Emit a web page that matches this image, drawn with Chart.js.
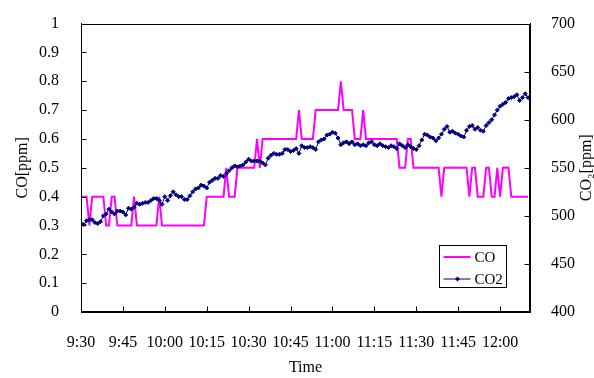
<!DOCTYPE html>
<html><head><meta charset="utf-8">
<script src="https://cdn.jsdelivr.net/npm/chart.js@4/dist/chart.umd.min.js"></script>
<style>html,body{margin:0;padding:0;background:#fff;}</style>
</head><body>
<canvas id="c" width="594" height="378"></canvas>
<script>
// minutes after 9:30 (one reading per minute)
const xTickLabels = ['9:30','9:45','10:00','10:15','10:30','10:45','11:00','11:15','11:30','11:45','12:00'];
const yLeftLabels = ['0','0.1','0.2','0.3','0.4','0.5','0.6','0.7','0.8','0.9','1'];
const yRightLabels = ['400','450','500','550','600','650','700'];
const seriesNames = ['CO','CO2'];
const leftTitle = 'CO[ppm]';
const rightTitle = 'CO\u2082[ppm]';
const bottomTitle = 'Time';

const coValues = [
 0.4,0.4,0.4,0.3,0.4,0.4,0.4,0.4,0.4,0.3,
 0.3,0.4,0.4,0.3,0.3,0.3,0.3,0.3,0.3,0.4,
 0.3,0.3,0.3,0.3,0.3,0.3,0.3,0.3,0.4,0.3,
 0.3,0.3,0.3,0.3,0.3,0.3,0.3,0.3,0.3,0.3,
 0.3,0.3,0.3,0.3,0.3,0.4,0.4,0.4,0.4,0.4,
 0.4,0.4,0.5,0.4,0.4,0.4,0.5,0.5,0.5,0.5,
 0.5,0.5,0.5,0.6,0.5,0.6,0.6,0.6,0.6,0.6,
 0.6,0.6,0.6,0.6,0.6,0.6,0.6,0.6,0.7,0.6,
 0.6,0.6,0.6,0.6,0.7,0.7,0.7,0.7,0.7,0.7,
 0.7,0.7,0.7,0.8,0.7,0.7,0.7,0.7,0.6,0.6,
 0.6,0.7,0.6,0.6,0.6,0.6,0.6,0.6,0.6,0.6,
 0.6,0.6,0.6,0.6,0.5,0.5,0.5,0.6,0.6,0.5,
 0.5,0.5,0.5,0.5,0.5,0.5,0.5,0.5,0.5,0.4,
 0.5,0.5,0.5,0.5,0.5,0.5,0.5,0.5,0.5,0.4,
 0.5,0.5,0.4,0.4,0.4,0.5,0.5,0.4,0.4,0.5,
 0.4,0.5,0.5,0.5,0.4,0.4,0.4,0.4,0.4,0.4,
 0.4
];
const co2Values = [
 492,491,495,496,496,493,492,494,500,502,
 507,504,502,505,505,504,501,508,507,509,
 513,512,513,514,514,516,518,518,516,512,
 520,516,521,525,522,520,520,517,517,521,
 525,528,529,532,531,529,535,537,539,539,
 542,541,544,547,550,552,551,552,553,556,
 559,557,557,557,557,555,553,560,563,565,
 564,564,565,569,569,567,568,570,565,573,
 571,571,572,571,569,577,579,580,584,585,
 587,586,581,574,576,577,575,577,574,575,
 573,574,573,576,577,574,573,575,573,572,
 571,573,572,570,575,573,571,574,572,570,
 569,573,579,585,584,582,581,578,581,585,
 590,593,587,588,586,585,583,582,589,593,
 594,590,592,589,588,594,597,600,605,610,
 614,616,618,622,623,624,626,620,623,627,
 623
];

const FONT = '"Liberation Serif", "Times New Roman", serif';
const toPts = arr => arr.map((v, i) => ({x: i, y: v}));

const decor = {
  id: 'decor',
  afterDraw(chart) {
    const {ctx, chartArea: a, scales} = chart;
    ctx.save();
    ctx.strokeStyle = '#000';
    ctx.lineWidth = 1;
    const L = Math.round(a.left) + 0.5, R = Math.round(a.right) - 0.5;
    const T = Math.round(a.top) + 0.5, B = Math.round(a.bottom) - 0.5;
    ctx.beginPath();
    ctx.rect(L, T, R - L, B - T);
    const tl = 5;
    scales.x.ticks.forEach(t => {
      const p = Math.round(scales.x.getPixelForValue(t.value)) + 0.5;
      ctx.moveTo(p, B); ctx.lineTo(p, B - tl);
    });
    scales.y.ticks.forEach(t => {
      const p = Math.round(scales.y.getPixelForValue(t.value)) + 0.5;
      ctx.moveTo(L, p); ctx.lineTo(L + tl, p);
    });
    scales.y1.ticks.forEach(t => {
      const p = Math.round(scales.y1.getPixelForValue(t.value)) + 0.5;
      ctx.moveTo(R, p); ctx.lineTo(R - tl, p);
    });
    ctx.stroke();

    // right axis title (reads bottom to top)
    ctx.save();
    ctx.fillStyle = '#000';
    ctx.font = '16px ' + FONT;
    ctx.translate(587, (a.top + a.bottom) / 2);
    ctx.rotate(-Math.PI / 2);
    ctx.textAlign = 'center';
    ctx.textBaseline = 'middle';
    ctx.fillText(rightTitle, 0, 0);
    ctx.restore();

    // legend box
    const bx = Math.round(a.right) - 91 + 0.5, by = Math.round(a.bottom) - 67 + 0.5, bw = 67, bh = 42;
    ctx.fillStyle = '#fff';
    ctx.fillRect(bx, by, bw, bh);
    ctx.strokeStyle = '#000';
    ctx.strokeRect(bx, by, bw, bh);
    chart.data.datasets.forEach((ds, i) => {
      const y = Math.round(by + 11 + i * 22);
      ctx.strokeStyle = ds.borderColor;
      ctx.lineWidth = ds.borderWidth;
      ctx.beginPath();
      ctx.moveTo(bx + 4, y); ctx.lineTo(bx + 31, y);
      ctx.stroke();
      if (ds.pointRadius > 0) {
        const cx = bx + 18, r = ds.pointRadius + 0.5;
        ctx.fillStyle = ds.pointBackgroundColor;
        ctx.beginPath();
        ctx.moveTo(cx, y - r); ctx.lineTo(cx + r, y); ctx.lineTo(cx, y + r); ctx.lineTo(cx - r, y);
        ctx.closePath(); ctx.fill();
      }
      ctx.fillStyle = '#000';
      ctx.font = '15px ' + FONT;
      ctx.textAlign = 'left';
      ctx.textBaseline = 'middle';
      ctx.fillText(ds.label, bx + 35, y + 1);
    });
    ctx.restore();
  }
};

new Chart(document.getElementById('c'), {
  type: 'line',
  data: {
    datasets: [
      {label: seriesNames[0], data: toPts(coValues), yAxisID: 'y', borderColor: '#FF00FF', borderWidth: 2,
       pointRadius: 0, tension: 0, order: 1},
      {label: seriesNames[1], data: toPts(co2Values), yAxisID: 'y1', borderColor: '#000080', borderWidth: 1,
       pointRadius: 2, pointStyle: 'rectRot', pointBackgroundColor: '#000080', pointBorderColor: '#000080',
       pointBorderWidth: 1, tension: 0, order: 0}
    ]
  },
  options: {
    responsive: false,
    animation: false,
    devicePixelRatio: 1,
    layout: {padding: {top: 20, left: 0, right: 0, bottom: 0}},
    plugins: {legend: {display: false}, tooltip: {enabled: false}},
    scales: {
      x: {
        type: 'linear', min: 0, max: 160.7,
        afterFit(s) { s.height = 66; },
        grid: {display: false}, border: {display: true, color: '#000', width: 1},
        ticks: {stepSize: 15, includeBounds: false, autoSkip: false, maxRotation: 0, minRotation: 0,
          padding: 13, color: '#000', font: {family: FONT, size: 16},
          callback: (v, i) => xTickLabels[i]},
        title: {display: true, text: bottomTitle, color: '#000', font: {family: FONT, size: 16},
          padding: {top: 0, bottom: 1}}
      },
      y: {
        type: 'linear', position: 'left', min: 0, max: 1,
        afterFit(s) { s.width = 81; },
        grid: {display: false}, border: {display: true, color: '#000', width: 1},
        ticks: {stepSize: 0.1, padding: 14, color: '#000', font: {family: FONT, size: 16},
          callback: (v, i) => yLeftLabels[i]},
        title: {display: true, text: leftTitle, color: '#000', font: {family: FONT, size: 16},
          padding: {top: 13, bottom: 0}}
      },
      y1: {
        type: 'linear', position: 'right', min: 400, max: 700,
        afterFit(s) { s.width = 64; },
        grid: {display: false}, border: {display: true, color: '#000', width: 1},
        ticks: {stepSize: 50, padding: 13, color: '#000', font: {family: FONT, size: 16},
          callback: (v, i) => yRightLabels[i]},
        title: {display: false}
      }
    }
  },
  plugins: [decor]
});
</script>
</body></html>
